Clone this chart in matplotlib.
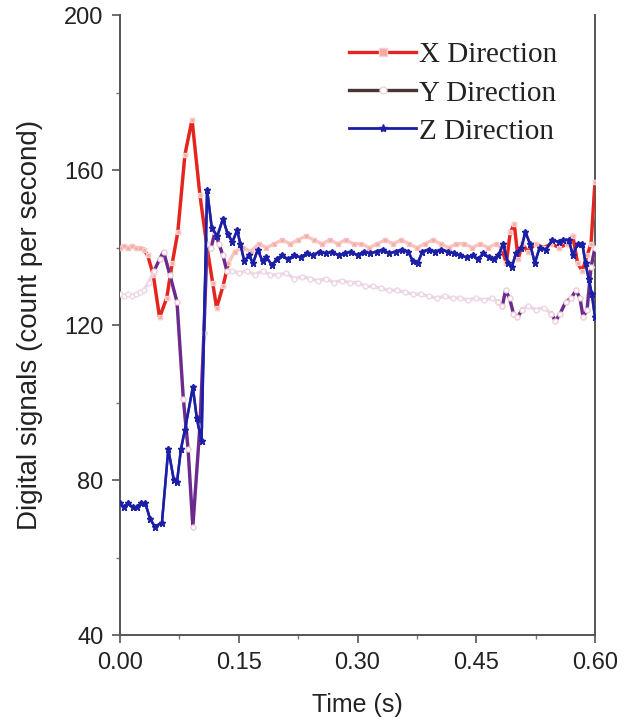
import matplotlib
matplotlib.use("Agg")
import matplotlib.pyplot as plt
from matplotlib.lines import Line2D
import numpy as np

# ---- data -------------------------------------------------------------
x_time = [0.000, 0.005, 0.010, 0.015, 0.020, 0.025, 0.030, 0.035, 0.042, 0.050,
          0.059, 0.066, 0.073, 0.082, 0.091, 0.101, 0.110, 0.117, 0.122, 0.130,
          0.137, 0.145, 0.155, 0.165, 0.175, 0.185, 0.195, 0.205, 0.215, 0.225,
          0.235, 0.245, 0.255, 0.265, 0.275, 0.285, 0.295, 0.305, 0.315, 0.325,
          0.335, 0.345, 0.355, 0.365, 0.375, 0.385, 0.395, 0.405, 0.415, 0.425,
          0.435, 0.445, 0.455, 0.465, 0.475, 0.482, 0.488, 0.493, 0.498, 0.503,
          0.508, 0.515, 0.525, 0.535, 0.545, 0.555, 0.565, 0.572, 0.578, 0.584,
          0.590, 0.595, 0.600]
x_signal = [140, 140.5, 140, 140.5, 140, 140, 139.5, 138, 133, 122,
            127, 136, 144, 164, 173, 153.5, 140, 131, 124.5, 130,
            136, 139, 140, 139, 141, 140, 141, 142, 141, 142,
            143, 142, 141, 142, 141, 142, 141, 141, 140, 141,
            142, 141, 142, 141, 140, 141, 142, 141, 140, 141,
            141, 140, 141, 140, 141, 140, 136, 144, 146, 137,
            141, 139, 141, 140, 141, 140, 141, 143, 136, 134,
            138, 141, 157]

y_time = [0.000, 0.005, 0.010, 0.015, 0.020, 0.025, 0.030, 0.036, 0.043, 0.050,
          0.055, 0.063, 0.072, 0.080, 0.086, 0.092, 0.101, 0.106, 0.110, 0.115,
          0.120, 0.125, 0.130, 0.135, 0.142, 0.150, 0.160, 0.170, 0.180, 0.190,
          0.200, 0.210, 0.220, 0.230, 0.240, 0.250, 0.260, 0.270, 0.280, 0.290,
          0.300, 0.310, 0.320, 0.330, 0.340, 0.350, 0.360, 0.370, 0.380, 0.390,
          0.400, 0.410, 0.420, 0.430, 0.440, 0.450, 0.460, 0.470, 0.478, 0.483,
          0.487, 0.492, 0.497, 0.502, 0.508, 0.515, 0.525, 0.535, 0.545, 0.550,
          0.556, 0.563, 0.570, 0.576, 0.581, 0.585, 0.590, 0.595, 0.600]
y_signal = [128, 127.5, 128, 127.5, 128, 128.5, 129, 131, 134, 137,
            139, 133, 126, 101, 88, 68, 94, 118, 141, 140,
            144, 141, 138, 134, 134, 133.5, 134, 133, 134, 133,
            133, 133.5, 132, 132.5, 132, 131.5, 132, 131, 131.5, 131,
            131, 130, 130, 129.5, 129, 129, 128.5, 128, 128, 127.5,
            127, 127.5, 127, 127, 126.5, 127, 126.5, 127, 126, 125,
            129, 127, 123, 122, 124, 125, 124, 124.5, 123, 121,
            123, 126, 127, 129, 127, 122, 124, 135, 140]

z_time = [0.000, 0.005, 0.010, 0.016, 0.021, 0.027, 0.032, 0.038, 0.044, 0.053,
          0.061, 0.068, 0.072, 0.077, 0.082, 0.092, 0.097, 0.103, 0.110, 0.116,
          0.123, 0.130, 0.136, 0.142, 0.148, 0.152, 0.157, 0.163, 0.168, 0.174,
          0.180, 0.185, 0.192, 0.198, 0.205, 0.212, 0.220, 0.228, 0.236, 0.244,
          0.252, 0.260, 0.268, 0.276, 0.284, 0.292, 0.300, 0.308, 0.316, 0.324,
          0.332, 0.340, 0.348, 0.356, 0.364, 0.370, 0.376, 0.382, 0.390, 0.398,
          0.406, 0.414, 0.422, 0.430, 0.438, 0.446, 0.452, 0.459, 0.466, 0.472,
          0.478, 0.484, 0.490, 0.495, 0.500, 0.507, 0.512, 0.518, 0.524, 0.530,
          0.538, 0.546, 0.554, 0.560, 0.567, 0.572, 0.578, 0.584, 0.588, 0.592,
          0.596, 0.600]
z_signal = [74, 73, 74, 73, 73, 74, 74, 70, 68, 69,
            88, 80, 79.5, 88, 93, 104, 96, 90, 155, 145,
            143, 147.5, 143.5, 141.5, 144.5, 141, 136.5, 138, 136, 139.5,
            136.5, 137.5, 135.5, 137, 138, 137, 138, 137.5, 138.5, 138,
            139, 138.5, 139, 138, 138.5, 139, 138, 139, 138.5, 139,
            139.5, 138.5, 139, 139.5, 139, 136.5, 136, 139, 139.5, 139,
            139.5, 139, 138.5, 138, 137.5, 138, 137, 138.5, 137.5, 137,
            138, 141, 136, 135, 138.5, 140, 144, 141, 136, 140,
            139.5, 142, 141.5, 142, 142, 138, 141, 141, 136, 132,
            128, 122]

labels = ["X Direction", "Y Direction", "Z Direction"]

# ---- styling ----------------------------------------------------------
X_STRONG, X_SOFT = "#e5241d", "#f7c4c1"
Y_STRONG, Y_SOFT = "#6c2a8e", "#ecd6e4"
Z_STRONG, Z_SOFT = "#1b1fa6", "#3d42b8"

plt.rcParams["font.family"] = ["Liberation Sans", "DejaVu Sans"]

fig = plt.figure(figsize=(6.25, 7.25), dpi=100)
ax = fig.add_axes([0.192, 0.124, 0.760, 0.855])


def draw_series(t, v, soft, strong, windows, marker, msize, mface, medge,
                lw, z):
    t = np.asarray(t)
    v = np.asarray(v)
    ax.plot(t, v, color=soft, lw=lw, marker=marker, ms=msize,
            mfc=mface if marker != "*" else soft, mec=soft, zorder=z)
    for lo, hi in windows:
        m = (t >= lo) & (t <= hi)
        ax.plot(t[m], v[m], color=strong, lw=lw, marker=marker, ms=msize,
                mfc=mface, mec=medge, zorder=z + 0.5)


draw_series(x_time, x_signal, X_SOFT, X_STRONG,
            [(0.030, 0.137), (0.482, 0.600)],
            "s", 3.5, "#f5a9a5", "#f8cfcc", 2.4, 3)
draw_series(y_time, y_signal, Y_SOFT, Y_STRONG,
            [(0.043, 0.135), (0.478, 0.510), (0.545, 0.600)],
            "o", 3.5, "white", "#f2d2da", 2.4, 4)
draw_series(z_time, z_signal, Z_SOFT, Z_STRONG,
            [(0.0, 0.600)],
            "*", 5.0, Z_STRONG, Z_STRONG, 1.8, 5)

# ---- axes -------------------------------------------------------------
ax.set_xlim(0.0, 0.60)
ax.set_ylim(40, 200)
ax.set_xticks([0.00, 0.15, 0.30, 0.45, 0.60])
ax.set_xticklabels(["0.00", "0.15", "0.30", "0.45", "0.60"])
ax.set_yticks([40, 80, 120, 160, 200])
ax.set_xticks([0.075, 0.225, 0.375, 0.525], minor=True)
ax.set_yticks([60, 100, 140, 180], minor=True)

for side in ("left", "bottom", "right"):
    ax.spines[side].set_color("#555555")
    ax.spines[side].set_linewidth(1.4)
ax.spines["top"].set_visible(False)

ax.tick_params(axis="both", which="major", direction="out", length=6,
               width=1.2, colors="#555555", labelcolor="#222222",
               labelsize=17, pad=6)
ax.tick_params(axis="both", which="minor", direction="out", length=3,
               width=1.0, colors="#777777")

ax.set_xlabel("Time (s)", fontsize=18, color="#222222", labelpad=14)
ax.set_ylabel("Digital signals (count per second)", fontsize=20,
              color="#222222", labelpad=15)

# ---- legend -----------------------------------------------------------
handles = [
    Line2D([], [], color=X_STRONG, lw=2.4, marker="s", ms=6,
           mfc="#f5a9a5", mec="#f8cfcc"),
    Line2D([], [], color="#4a3434", lw=2.4, marker="o", ms=5,
           mfc="white", mec="#f2d2da"),
    Line2D([], [], color=Z_STRONG, lw=2.0, marker="*", ms=6,
           mfc=Z_STRONG, mec=Z_STRONG),
]
leg = ax.legend(handles, labels, loc="upper right",
                bbox_to_anchor=(0.958, 0.985), frameon=False,
                handlelength=2.3, handletextpad=0.1, labelspacing=0.4,
                borderaxespad=0.2,
                prop={"family": ["Liberation Serif", "DejaVu Serif"],
                      "size": 21})
for txt in leg.get_texts():
    txt.set_color("#222222")

fig.savefig("out.png", dpi=100)
